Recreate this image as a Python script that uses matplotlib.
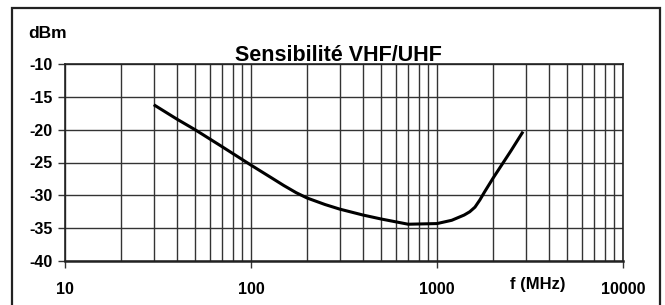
import matplotlib
matplotlib.use("Agg")
import matplotlib.pyplot as plt
from matplotlib.patches import Rectangle
from matplotlib.ticker import FixedLocator, NullFormatter

plt.rcParams['font.family'] = ['Liberation Sans', 'DejaVu Sans']

freq_mhz = [30, 40, 50, 70, 100, 130, 150, 175, 200, 250, 300, 400, 500, 700, 1000, 1200, 1400, 1500, 1600, 1700, 1800, 2000, 2500, 2900]
sens_dbm = [-16.2, -18.4, -20.0, -22.6, -25.4, -27.4, -28.5, -29.6, -30.4, -31.4, -32.1, -33.0, -33.6, -34.4, -34.3, -33.8, -33.0, -32.5, -31.8, -30.7, -29.5, -27.4, -23.2, -20.3]

x_ticks = [10, 100, 1000, 10000]
x_tick_labels = ["10", "100", "1000", "10000"]
y_ticks = [-40, -35, -30, -25, -20, -15, -10]
y_tick_labels = ["-40", "-35", "-30", "-25", "-20", "-15", "-10"]
minor_x = [m * d for d in (10, 100, 1000) for m in range(2, 10)]

W, H = 665, 305
fig = plt.figure(figsize=(W / 100, H / 100), dpi=100)
fig.patch.set_facecolor('white')

# outer frame
fig.patches.append(Rectangle((12 / W, -0.05), (660 - 12) / W, (305 - 8) / H + 0.05,
                             transform=fig.transFigure, fill=False,
                             edgecolor='#222222', linewidth=1.6))

ax = fig.add_axes([65 / W, (H - 261) / H, 558 / W, 197 / H])
ax.set_xscale('log')
ax.set_xlim(10, 10000)
ax.set_ylim(-40, -10)

ax.plot(freq_mhz, sens_dbm, color='black', linewidth=2.2, solid_capstyle='butt',
        solid_joinstyle='round', zorder=3)

ax.xaxis.set_major_locator(FixedLocator(x_ticks))
ax.set_xticklabels(x_tick_labels, fontweight='bold')
ax.xaxis.set_minor_locator(FixedLocator(minor_x))
ax.xaxis.set_minor_formatter(NullFormatter())
ax.set_yticks(y_ticks)
ax.set_yticklabels(y_tick_labels, fontweight='bold')

ax.grid(True, which='major', color='#333333', linewidth=1.0)
ax.grid(True, which='minor', axis='x', color='#333333', linewidth=1.0)
ax.tick_params(axis='x', which='major', length=5, width=1, color='#333333',
               labelsize=11.5, pad=10)
ax.tick_params(axis='x', which='minor', length=0)
ax.tick_params(axis='y', which='major', length=5, width=1, color='#333333',
               labelsize=11.5, pad=4)
for s in ax.spines.values():
    s.set_color('#222222')
    s.set_linewidth(1.2)
ax.spines['bottom'].set_linewidth(1.8)

fig.text(338 / W, 1 - 61 / H, "Sensibilité VHF/UHF", ha='center', va='baseline',
         fontsize=15.5, fontweight='bold')
fig.text(28 / W, 1 - 34 / H, "dBm", ha='left', va='center', fontsize=12.5, fontweight='bold')
fig.text(538 / W, 1 - 285 / H, "f (MHz)", ha='center', va='center', fontsize=12, fontweight='bold')

fig.savefig("out.png", dpi=100)
